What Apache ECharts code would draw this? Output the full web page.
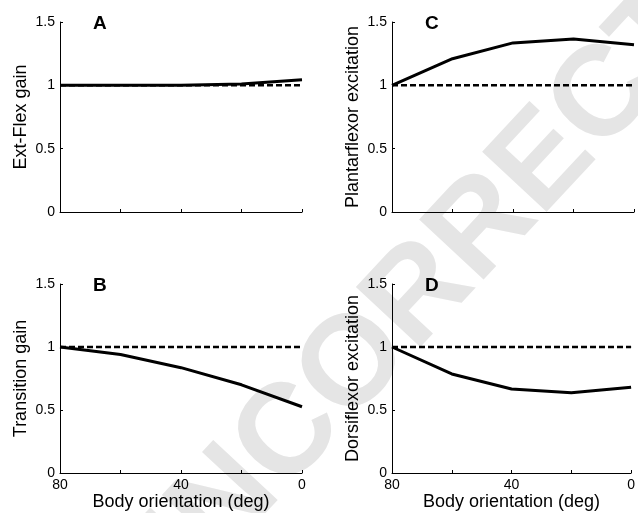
<!DOCTYPE html>
<html>
<head>
<meta charset="UTF-8">
<script type="text/javascript" src="https://cdn.jsdelivr.net/npm/echarts@6/dist/echarts.min.js"></script>
<title>Body orientation</title>
<style>
	html, body { margin:0; padding:0; background:#fff; }
</style>
</head>
<body>
	<div id="main" style="width:638px;height:513px;"></div>
	<script type="text/javascript">
		// body orientation (deg), plotted from 80 down to 0
		var orient = [80, 60, 40, 20, 0];
		var xLabels = [80, 40, 0];
		var yTicks = [0, 0.5, 1, 1.5];

		var extFlex = [1, 1, 1, 1.01, 1.045];
		var transition = [1, 0.94, 0.836, 0.70, 0.526];
		var plantar = [1, 1.21, 1.335, 1.365, 1.32];
		var dorsi = [1, 0.786, 0.667, 0.637, 0.68];
		var baseline = [1, 1, 1, 1, 1];

		var panels = ['A', 'B', 'C', 'D'];
		var yNames = ['Ext-Flex gain', 'Transition gain', 'Plantarflexor excitation', 'Dorsiflexor excitation'];
		var curves = [extFlex, transition, plantar, dorsi];

		var font = 'Liberation Sans, Arial, Helvetica, sans-serif';
		var boxes = [
			{left:60, top:22, width:242, height:190},
			{left:60, top:284, width:242, height:189},
			{left:392, top:22, width:242, height:190},
			{left:392, top:284, width:242, height:189}
		];

		function pairs(ys) {
			var out = [];
			for (var i = 0; i < orient.length; i++) out.push([orient[i], ys[i]]);
			return out;
		}

		var grid = [], xAxis = [], yAxis = [], series = [], graphic = [];

		// watermark across the figure
		graphic.push({
			type:'text', z:-10, x:430, y:285, rotation:47 * Math.PI / 180,
			style:{text:'INCORRECT', fill:'#e5e5e5', font:'bold 128px ' + font, align:'center', verticalAlign:'middle'}
		});

		for (var i = 0; i < 4; i++) {
			var bottom = (i === 1 || i === 3);
			grid.push(boxes[i]);
			xAxis.push({
				gridIndex:i, type:'value', min:0, max:80, interval:20, inverse:true,
				axisLine:{onZero:false, lineStyle:{color:'#000', width:1}},
				axisTick:{inside:true, length:3, lineStyle:{color:'#000'}},
				splitLine:{show:false},
				axisLabel:{
					show:bottom, color:'#000', fontSize:14, fontFamily:font, margin:5,
					formatter:function (v) { return xLabels.indexOf(v) >= 0 ? String(v) : ''; }
				},
				name:bottom ? 'Body orientation (deg)' : '',
				nameLocation:'middle', nameGap:18,
				nameTextStyle:{color:'#000', fontSize:18, fontFamily:font, verticalAlign:'top'}
			});
			yAxis.push({
				gridIndex:i, type:'value', min:yTicks[0], max:yTicks[yTicks.length - 1], interval:0.5,
				position:'left',
				axisLine:{show:true, onZero:false, lineStyle:{color:'#000', width:1}},
				axisTick:{show:true, inside:true, length:3, lineStyle:{color:'#000'}},
				splitLine:{show:false},
				axisLabel:{color:'#000', fontSize:14, fontFamily:font, margin:5},
				name:yNames[i], nameLocation:'middle', nameGap:30,
				nameTextStyle:{color:'#000', fontSize:18, fontFamily:font}
			});
			series.push({
				type:'line', xAxisIndex:i, yAxisIndex:i, data:pairs(baseline),
				symbol:'none', silent:true, z:2,
				lineStyle:{color:'#000', width:2.5, type:[6, 3]}
			});
			series.push({
				type:'line', xAxisIndex:i, yAxisIndex:i, data:pairs(curves[i]),
				symbol:'none', silent:true, z:3,
				lineStyle:{color:'#000', width:3}
			});
			graphic.push({
				type:'text', left:boxes[i].left + 33, top:boxes[i].top - 8,
				style:{text:panels[i], fill:'#000', font:'bold 19px ' + font}
			});
		}

		var myChart = echarts.init(document.getElementById("main"));
		var option = {
			animation:false,
			grid:grid,
			xAxis:xAxis,
			yAxis:yAxis,
			series:series,
			graphic:graphic
		};
		myChart.setOption(option);
	</script>
</body>
</html>
